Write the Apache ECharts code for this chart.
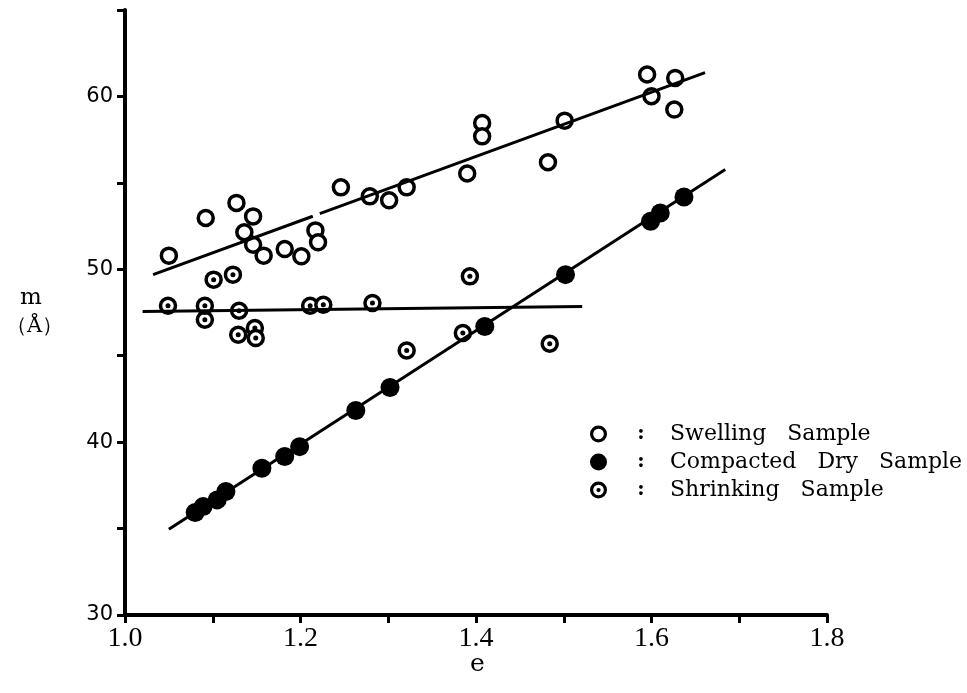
<!DOCTYPE html>
<html>
<head>
<meta charset="utf-8">
<script src="https://cdn.jsdelivr.net/npm/echarts@6/dist/echarts.min.js"></script>
<style>html,body{margin:0;padding:0;background:#fff;}#c{width:967px;height:693px;}</style>
</head>
<body>
<div id="c"></div>
<script>
// Void ratio e vs. m (Å)
const swelling = [
  [1.050,50.79],[1.092,52.97],[1.127,53.84],[1.146,53.06],[1.136,52.14],[1.146,51.42],
  [1.158,50.79],[1.182,51.17],[1.201,50.75],[1.217,52.25],[1.220,51.56],[1.246,54.74],
  [1.279,54.22],[1.301,53.99],[1.321,54.74],[1.390,55.54],[1.407,58.46],[1.407,57.69],
  [1.482,56.19],[1.501,58.60],[1.595,61.27],[1.600,60.01],[1.627,61.07],[1.626,59.24]
];
const compacted = [
  [1.080,35.93],[1.089,36.27],[1.105,36.66],[1.115,37.14],[1.156,38.49],[1.182,39.17],
  [1.199,39.74],[1.263,41.83],[1.302,43.16],[1.410,46.69],[1.502,49.69],[1.599,52.78],
  [1.610,53.26],[1.637,54.18]
];
const shrinking = [
  [1.101,49.40],[1.123,49.69],[1.049,47.89],[1.091,47.08],[1.091,47.89],[1.130,47.60],
  [1.129,46.21],[1.148,46.60],[1.149,46.02],[1.211,47.89],[1.226,47.95],[1.282,48.05],
  [1.393,49.59],[1.385,46.31],[1.321,45.30],[1.484,45.69]
];
const swellingLine = [[1.032,49.69],[1.214,53.07],[1.218,'-'],[1.222,53.22],[1.661,61.38]];
const compactedLine = [[1.050,34.96],[1.684,55.77]];
const shrinkingLine = [[1.020,47.56],[1.521,47.85]];
const xTicks = [1.0,1.2,1.4,1.6,1.8];
const yTicks = [30,40,50,60];
const names = ['Swelling Sample','Compacted Dry Sample','Shrinking Sample'];

const serif = 'DejaVu Serif';
const chart = echarts.init(document.getElementById('c'));
const ringPath = 'path://M2,10 A8,8 0 1,0 18,10 A8,8 0 1,0 2,10 Z M5,10 A5,5 0 1,1 15,10 A5,5 0 1,1 5,10 Z M8,10 A2,2 0 1,0 12,10 A2,2 0 1,0 8,10 Z';
const openPath = 'path://M2,10 A8,8 0 1,0 18,10 A8,8 0 1,0 2,10 Z M5,10 A5,5 0 1,1 15,10 A5,5 0 1,1 5,10 Z';
chart.setOption({
  animation: false,
  grid: {left:125, top:10, width:702, height:605},
  xAxis: {
    type:'value', min:1.0, max:1.8, interval:0.1,
    axisLine:{lineStyle:{color:'#000', width:4}},
    axisTick:{length:8, lineStyle:{color:'#000', width:3}},
    splitLine:{show:false},
    axisLabel:{margin:10, color:'#000', fontFamily:'Liberation Serif', fontSize:28,
      formatter: v => { const r = Math.round(v*10)/10; return xTicks.some(t=>Math.abs(t-r)<1e-6) ? r.toFixed(1) : ''; }}
  },
  yAxis: {
    type:'value', min:30, max:65, interval:5,
    axisLine:{lineStyle:{color:'#000', width:4}},
    axisTick:{length:8, lineStyle:{color:'#000', width:3}},
    splitLine:{show:false},
    axisLabel:{margin:12, color:'#000', fontFamily:'DejaVu Sans', fontSize:21,
      formatter: v => yTicks.indexOf(v) >= 0 ? String(v) : ''}
  },
  legend: {
    orient:'vertical', left:585, top:418, itemWidth:17, itemHeight:17, itemGap:6,
    selectedMode:false,
    data:[
      {name:names[0], icon:openPath, itemStyle:{color:'#000', borderWidth:0, opacity:1}},
      {name:names[1], icon:'circle', itemStyle:{color:'#000', borderWidth:0, opacity:1}},
      {name:names[2], icon:ringPath, itemStyle:{color:'#000', borderWidth:0, opacity:1}}
    ],
    formatter: n => '{c|:}{t|' + n.replace(/ /g,'   ') + '}',
    textStyle:{color:'#000', fontFamily:serif, fontSize:22,
      rich:{c:{width:58, align:'center', fontFamily:serif, fontSize:20, fontWeight:'bold', lineHeight:24},
            t:{fontFamily:serif, fontSize:22, lineHeight:24}}}
  },
  graphic: [
    {type:'text', left:20, top:287, style:{text:'m', font:'23px "DejaVu Serif"', fill:'#000'}},
    {type:'text', left:6, top:316, style:{text:'（Å）', font:'21px "DejaVu Serif"', fill:'#000'}},
    {type:'text', left:470, top:652, style:{text:'e', font:'25px "DejaVu Serif"', fill:'#000'}}
  ],
  series: [
    {type:'line', data:swellingLine, symbol:'none', silent:true, connectNulls:false, lineStyle:{color:'#000', width:3}},
    {type:'line', data:compactedLine, symbol:'none', silent:true, lineStyle:{color:'#000', width:3}},
    {type:'line', data:shrinkingLine, symbol:'none', silent:true, lineStyle:{color:'#000', width:3}},
    {name:names[0], type:'scatter', data:swelling, symbol:'circle', symbolSize:15,
      itemStyle:{color:'#fff', borderColor:'#000', borderWidth:3.5, opacity:1}},
    {name:names[1], type:'scatter', data:compacted, symbol:'circle', symbolSize:19,
      itemStyle:{color:'#000', borderWidth:0, opacity:1}},
    {name:names[2], type:'scatter', data:shrinking, symbol:'circle', symbolSize:15,
      itemStyle:{color:'#fff', borderColor:'#000', borderWidth:3.5, opacity:1}},
    {name:'shrinkingDot', type:'scatter', data:shrinking, symbol:'circle', symbolSize:5,
      itemStyle:{color:'#000', borderWidth:0, opacity:1}}
  ]
});
</script>
</body>
</html>
